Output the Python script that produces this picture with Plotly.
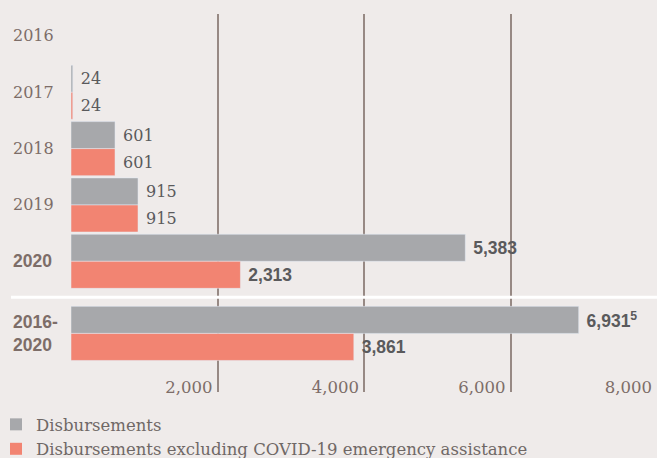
import plotly.graph_objects as go

# Data (USD millions)
categories = ["2016", "2017", "2018", "2019", "2020", "2016-<br>2020"]
bold_categories = ["2020", "2016-<br>2020"]
disbursements = [None, 24, 601, 915, 5383, 6931]
excl_covid = [None, 24, 601, 915, 2313, 3861]
footnotes = ["", "", "", "", "", "5"]
x_ticks = [2000, 4000, 6000, 8000]
series_names = ["Disbursements", "Disbursements excluding COVID-19 emergency assistance"]

# Layout constants
BG = "#efebea"
GRAY = "#a7a8ab"
SALMON = "#f28472"
SERIF = "DejaVu Serif"
SANS = "Liberation Sans"

# the total row sits a bit further down than the yearly rows
y_pos = list(range(len(categories) - 1)) + [len(categories) - 1 + 0.28]
sep_y = (y_pos[-2] + y_pos[-1]) / 2


def fmt(values, notes=None):
    out = []
    for i, v in enumerate(values):
        if v is None:
            out.append("")
            continue
        s = " " + f"{v:,}"
        if notes and notes[i]:
            s += f"<sup>{notes[i]}</sup>"
        out.append(s)
    return out


def label_fonts():
    fam, size, weight = [], [], []
    for c in categories:
        if c in bold_categories:
            fam.append(SANS); size.append(17.5); weight.append("bold")
        else:
            fam.append(SERIF); size.append(16); weight.append("normal")
    return fam, size, weight


fam, size, weight = label_fonts()

fig = go.Figure()

for vals, color, notes in [(disbursements, GRAY, footnotes), (excl_covid, SALMON, None)]:
    fig.add_trace(
        go.Bar(
            y=y_pos,
            x=vals,
            orientation="h",
            marker_color=color,
            text=fmt(vals, notes),
            textposition="outside",
            textfont=dict(family=fam, size=size, weight=weight, color="#5a5a5c"),
            cliponaxis=False,
            showlegend=False,
        )
    )

# legend entries with bigger square swatches
for name, color in zip(series_names, [GRAY, SALMON]):
    fig.add_trace(
        go.Scatter(
            x=[None], y=[None], mode="markers", name=name,
            marker=dict(symbol="square", size=12, color=color),
        )
    )

# invisible trace on the overlay axis so the gridlines get drawn
fig.add_trace(
    go.Scatter(x=[0], y=[0], xaxis="x2", mode="markers",
               marker_opacity=0, showlegend=False, hoverinfo="skip")
)

# category labels, left aligned
L = 71
W = 657 - L
for c, y in zip(categories, y_pos):
    bold = c in bold_categories
    fig.add_annotation(
        x=(11 - L) / W, xref="paper", xanchor="left",
        y=y, yref="y", yanchor="middle",
        text=c, showarrow=False, align="left",
        font=dict(family=SANS if bold else SERIF,
                  size=17.5 if bold else 16,
                  weight="bold" if bold else "normal",
                  color="#7d6d68"),
    )

# white separator between the yearly rows and the total
fig.add_shape(
    type="line", xref="paper", x0=(11 - L) / W, x1=1,
    yref="y", y0=sep_y, y1=sep_y,
    line=dict(color="white", width=3), layer="above",
)

fig.update_layout(
    width=657,
    height=458,
    margin=dict(l=L, r=0, t=14, b=66, autoexpand=False),
    paper_bgcolor=BG,
    plot_bgcolor=BG,
    barmode="group",
    bargap=0.04,
    bargroupgap=0,
    showlegend=True,
    legend=dict(
        orientation="v",
        x=(-4 - L) / W, xanchor="left",
        y=-0.04, yanchor="top",
        traceorder="normal",
        font=dict(family=SERIF, size=16.5, color="#6f6866"),
        bgcolor="rgba(0,0,0,0)",
        tracegroupgap=0,
    ),
    xaxis=dict(
        range=[0, 8000],
        tickvals=x_ticks,
        ticktext=[f"{v:,}" for v in x_ticks],
        ticklabelposition="inside left",
        ticklabelstandoff=-10,
        ticklabelshift=-5,
        showgrid=False,
        zeroline=False,
        showline=False,
        ticks="",
        tickfont=dict(family=SERIF, size=16.5, color="#7d6d68"),
        fixedrange=True,
    ),
    xaxis2=dict(
        overlaying="x",
        matches="x",
        tickvals=x_ticks[:-1],
        showticklabels=False,
        showgrid=True,
        gridcolor="#978984",
        gridwidth=2,
        zeroline=False,
        ticks="",
    ),
    yaxis=dict(
        range=[6.32, -0.39],
        showticklabels=False,
        showgrid=False,
        zeroline=False,
        ticks="",
    ),
)

# drop the default page margin so the figure fills the window
fig.write_html(
    "out.html",
    config={"displayModeBar": False},
    post_script="document.body.style.margin='0';",
)
